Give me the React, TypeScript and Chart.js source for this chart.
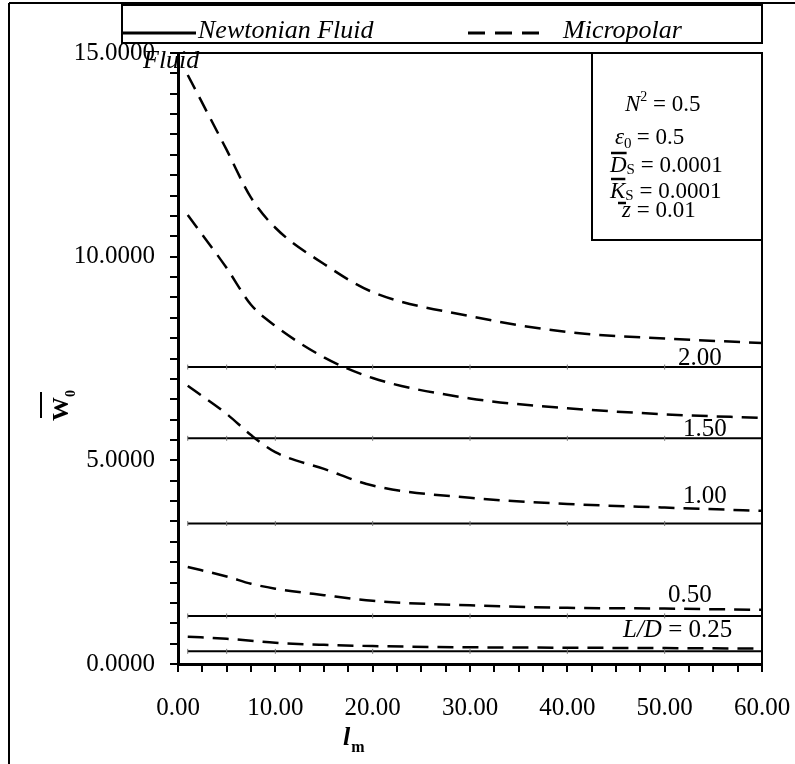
import React, { useEffect, useRef } from 'react';
import { Chart, registerables } from 'chart.js';

Chart.register(...registerables);

// ---- data ----
const lm = [1, 5, 7.5, 10, 15, 20, 30, 40, 50, 60];
const newtonianLm = [1, 5, 10, 20, 30, 40, 50, 60];
const ldLabels = ['2.00', '1.50', '1.00', '0.50', '0.25'];
const newtonianW0 = [7.29, 5.54, 3.45, 1.18, 0.31];
const micropolarLD200 = [14.46, 12.62, 11.45, 10.71, 9.82, 9.13, 8.54, 8.15, 7.99, 7.88];
const micropolarLD150 = [11.02, 9.72, 8.82, 8.3, 7.53, 7.02, 6.52, 6.28, 6.13, 6.04];
const micropolarLD100 = [6.83, 6.14, 5.62, 5.2, 4.79, 4.38, 4.08, 3.93, 3.84, 3.76];
const micropolarLD050 = [2.38, 2.15, 1.97, 1.85, 1.69, 1.55, 1.44, 1.38, 1.36, 1.33];
const micropolarLD025 = [0.67, 0.62, 0.57, 0.52, 0.47, 0.44, 0.41, 0.4, 0.39, 0.38];
const yMajorStep = 5;
const xMajorStep = 10;

// ---- layout (label placement beside the Newtonian lines) ----
const labelX = [678, 683, 683, 668, 623];
const labelDy = [-2, -2, -20, -14, -14];

const FONT = "'Liberation Serif', 'Times New Roman', serif";

function put(ctx: CanvasRenderingContext2D, s: string, x: number, y: number, size: number, style = '', align: CanvasTextAlign = 'left') {
  ctx.font = `${style} ${size}px ${FONT}`;
  ctx.textAlign = align;
  ctx.textBaseline = 'alphabetic';
  ctx.fillText(s, x, y);
  return ctx.measureText(s).width;
}

function line(ctx: CanvasRenderingContext2D, x1: number, y1: number, x2: number, y2: number, w: number, dash: number[] = []) {
  ctx.save();
  ctx.beginPath();
  ctx.setLineDash(dash);
  ctx.lineWidth = w;
  ctx.strokeStyle = '#000';
  ctx.moveTo(x1, y1);
  ctx.lineTo(x2, y2);
  ctx.stroke();
  ctx.restore();
}

const decorPlugin = {
  id: 'decor',
  afterDraw(chart: any) {
    const ctx: CanvasRenderingContext2D = chart.ctx;
    const { left, right, top, bottom } = chart.chartArea;
    const ys = chart.scales.y;
    ctx.save();
    ctx.fillStyle = '#000';

    // outer frame
    line(ctx, 9, 3, 800, 3, 2);
    line(ctx, 9, 3, 9, 770, 2);

    // plot frame top/right
    line(ctx, left, top, right, top, 2);
    line(ctx, right, top, right, bottom + 8, 2);

    // legend box
    ctx.lineWidth = 2;
    ctx.strokeStyle = '#000';
    ctx.strokeRect(122, 5, right - 122, 38);
    line(ctx, 122, 33, 196, 33, 3);
    put(ctx, 'Newtonian Fluid', 198, 38, 26, 'italic');
    line(ctx, 468, 33, 542, 33, 3, [17, 10]);
    put(ctx, 'Micropolar', 563, 38, 26, 'italic');
    put(ctx, 'Fluid', 143, 68, 26, 'italic');

    // parameter box
    ctx.strokeRect(592, top, right - 592, 187);
    let w = put(ctx, 'N', 625, 111, 23, 'italic');
    put(ctx, '2', 625 + w, 101, 14);
    put(ctx, ' = 0.5', 625 + w + 7, 111, 23);

    w = put(ctx, 'ε', 615, 144, 23, 'italic');
    put(ctx, '0', 615 + w, 148, 15);
    put(ctx, ' = 0.5', 615 + w + 7, 144, 23);

    w = put(ctx, 'D', 610, 172, 23, 'italic');
    line(ctx, 611, 153, 610 + w, 153, 2.5);
    let w2 = put(ctx, 'S', 610 + w, 174, 15);
    put(ctx, ' = 0.0001', 610 + w + w2, 172, 23);

    w = put(ctx, 'K', 610, 198, 23, 'italic');
    line(ctx, 611, 179, 610 + w, 179, 2.5);
    w2 = put(ctx, 'S', 610 + w, 200, 15);
    put(ctx, ' = 0.0001', 610 + w + w2, 198, 23);

    w = put(ctx, 'z', 622, 217, 23, 'italic');
    line(ctx, 618, 203, 626, 203, 2.5);
    put(ctx, ' = 0.01', 622 + w, 217, 23);

    // L/D labels
    newtonianW0.forEach((v, i) => {
      const y = ys.getPixelForValue(v) + labelDy[i];
      if (i === ldLabels.length - 1) {
        const ww = put(ctx, 'L/D', labelX[i], y, 25, 'italic');
        put(ctx, ' = ' + ldLabels[i], labelX[i] + ww, y, 25);
      } else {
        put(ctx, ldLabels[i], labelX[i], y, 25);
      }
    });

    // y-axis title  W0 with overbar (rotated)
    ctx.save();
    ctx.translate(68, 409);
    ctx.rotate(-Math.PI / 2);
    put(ctx, 'W', 0, 0, 24, 'bold', 'center');
    put(ctx, '0', 12, 7, 14, 'bold');
    line(ctx, -9, -27, 17, -27, 2);
    ctx.restore();

    // x-axis title l_m
    const lw = put(ctx, 'l', 343, 745, 26, 'bold italic');
    put(ctx, 'm', 343 + lw + 1, 752, 16, 'bold');

    ctx.restore();
  },
};

export default function App() {
  const ref = useRef<HTMLCanvasElement>(null);
  useEffect(() => {
    document.body.style.margin = '0';
    const canvas = ref.current!;
    const newtonianSets = newtonianW0.map((v, i) => ({
      label: 'Newtonian L/D ' + ldLabels[i],
      data: newtonianLm.map((x) => ({ x, y: v })),
      borderColor: '#000',
      borderWidth: 2,
      pointRadius: 2.5,
      pointStyle: 'line',
      pointRotation: 90,
      pointBorderColor: '#777',
      pointBorderWidth: 1,
      tension: 0,
    }));
    const micro = [micropolarLD200, micropolarLD150, micropolarLD100, micropolarLD050, micropolarLD025];
    const microSets = micro.map((arr, i) => ({
      label: 'Micropolar L/D ' + ldLabels[i],
      data: lm.map((x, j) => ({ x, y: arr[j] })),
      borderColor: '#000',
      borderWidth: 2.5,
      borderDash: [16, 9],
      pointRadius: 0,
      cubicInterpolationMode: 'monotone',
    }));
    const tickFont = { family: FONT, size: 25 };
    const chart = new Chart(canvas, {
      type: 'line',
      data: { datasets: [...newtonianSets, ...microSets] as any },
      options: {
        animation: false,
        responsive: false,
        devicePixelRatio: 1,
        layout: { padding: { top: 53, right: 33, left: 0, bottom: 0 } },
        plugins: { legend: { display: false }, tooltip: { enabled: false } },
        scales: {
          x: {
            type: 'linear',
            min: 0,
            max: 60,
            afterFit: (s: any) => { s.height = 100; s.paddingLeft = 0; s.paddingRight = 0; },
            border: { display: true, color: '#000', width: 3 },
            grid: { drawOnChartArea: false, drawTicks: true, tickLength: 8, color: '#000', lineWidth: 2 },
            ticks: {
              stepSize: 2.5,
              autoSkip: false,
              maxRotation: 0,
              padding: 21,
              color: '#000',
              font: tickFont,
              callback: (v: any) => (Math.abs(v % xMajorStep) < 1e-9 ? Number(v).toFixed(2) : ''),
            },
          },
          y: {
            type: 'linear',
            min: 0,
            max: 15,
            afterFit: (s: any) => { s.width = 178; s.paddingTop = 0; s.paddingBottom = 0; },
            border: { display: true, color: '#000', width: 3 },
            grid: { drawOnChartArea: false, drawTicks: true, tickLength: 8, color: '#000', lineWidth: 2 },
            ticks: {
              stepSize: 0.5,
              autoSkip: false,
              padding: 15,
              color: '#000',
              font: tickFont,
              callback: (v: any) => (Math.abs(v % yMajorStep) < 1e-9 ? Number(v).toFixed(4) : ''),
            },
          },
        },
      } as any,
      plugins: [decorPlugin],
    });
    return () => chart.destroy();
  }, []);
  return <canvas ref={ref} width={795} height={764} style={{ display: 'block' }} />;
}
